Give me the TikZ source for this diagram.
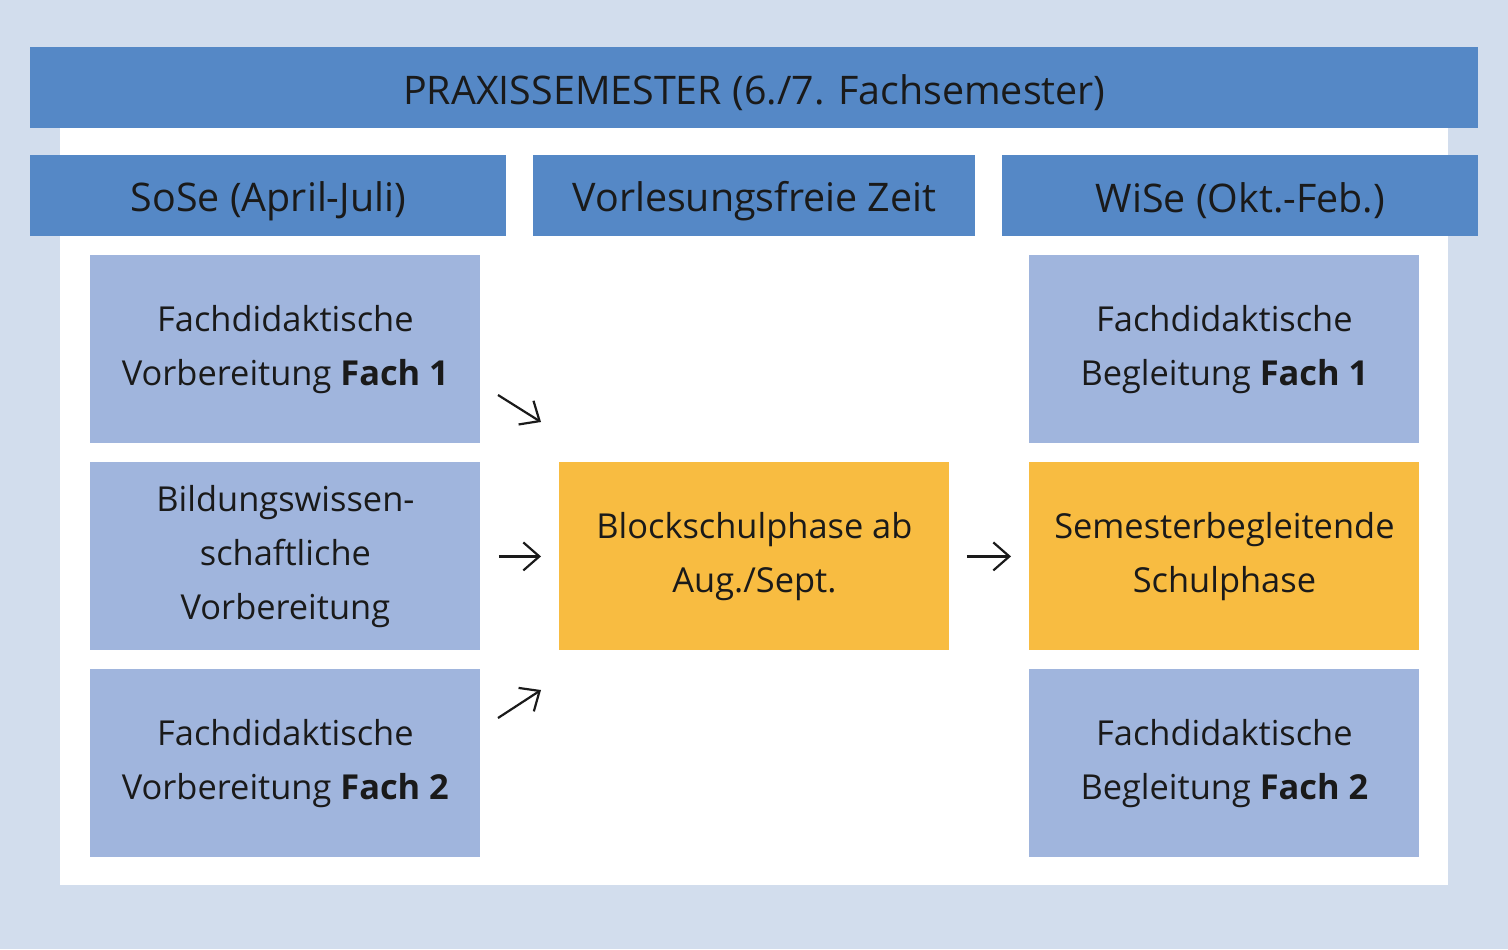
\documentclass[tikz,border=0pt]{standalone}
\usepackage{fontspec}
\setmainfont{Open Sans}
\usepackage{tikz}
\usetikzlibrary{positioning, calc, arrows.meta}
\definecolor{bgblue}{HTML}{D2DDED}
\definecolor{barblue}{HTML}{5588C6}
\definecolor{boxblue}{HTML}{A0B5DD}
\definecolor{boxorange}{HTML}{F8BC41}
\definecolor{txt}{HTML}{1A1A1A}

\begin{document}
\begin{tikzpicture}[x=0.5pt, y=-0.5pt,
	bar/.style={fill=barblue, text=txt, inner sep=0pt, anchor=north west, minimum height=40.5pt, font=\fontsize{19.7}{22}\selectfont, execute at begin node={\rule{0pt}{20pt}}},
	phase/.style={fill=boxblue, text=txt, inner sep=0pt, anchor=north west, minimum width=195pt, minimum height=94pt, align=center, font=\fontsize{17.2}{27}\selectfont, execute at begin node={\vspace*{4pt}}},
	school/.style={phase, fill=boxorange},
	arr/.style={-{Straight Barb[length=8pt, width=14pt, line width=1.1pt]}, line width=1.1pt, txt}]
	
	%//background and white panel
	\fill [bgblue] (0,0) rectangle (1508,949);
	\fill [white] (60,128) rectangle (1448,885);
	
	%//title and column heads
	\node [bar, minimum width=724pt, execute at begin node={\rule{0pt}{17pt}}] (title) at (30,47) {PRAXISSEMESTER (6./7. Fachsemester)};
	\node [bar, minimum width=238pt] (sose) at (30,155) {SoSe (April-Juli)};
	\node [bar, minimum width=221pt] (vfz) at (533,155) {Vorlesungsfreie Zeit};
	\node [bar, minimum width=238pt] (wise) at (1002,155) {WiSe (Okt.-Feb.)};
	
	%//left column
	\node [phase] (vorb1) at (90,255) {Fachdidaktische\\Vorbereitung \textbf{Fach 1}};
	\node [phase] (bwv) at (90,462) {Bildungswissen-\\schaftliche\\Vorbereitung};
	\node [phase] (vorb2) at (90,669) {Fachdidaktische\\Vorbereitung \textbf{Fach 2}};
	
	%//middle and right column
	\node [school] (block) at (559,462) {Blockschulphase ab\\Aug./Sept.};
	\node [phase] (begl1) at (1029,255) {Fachdidaktische\\Begleitung \textbf{Fach 1}};
	\node [school] (sem) at (1029,462) {Semesterbegleitende\\Schulphase};
	\node [phase] (begl2) at (1029,669) {Fachdidaktische\\Begleitung \textbf{Fach 2}};
	
	%//arrows
	\coordinate (a1) at (498,395);
	\coordinate (b1) at (541,422);
	\coordinate (a3) at (498,718);
	\coordinate (b3) at (541,690);
	\draw [arr] (a1) -- (b1);
	\draw [arr] ($(bwv.east)+(18,0)$) -- ($(block.west)+(-18,0)$);
	\draw [arr] (a3) -- (b3);
	\draw [arr] ($(block.east)+(17,0)$) -- ($(sem.west)+(-18,0)$);
\end{tikzpicture}
\end{document}
